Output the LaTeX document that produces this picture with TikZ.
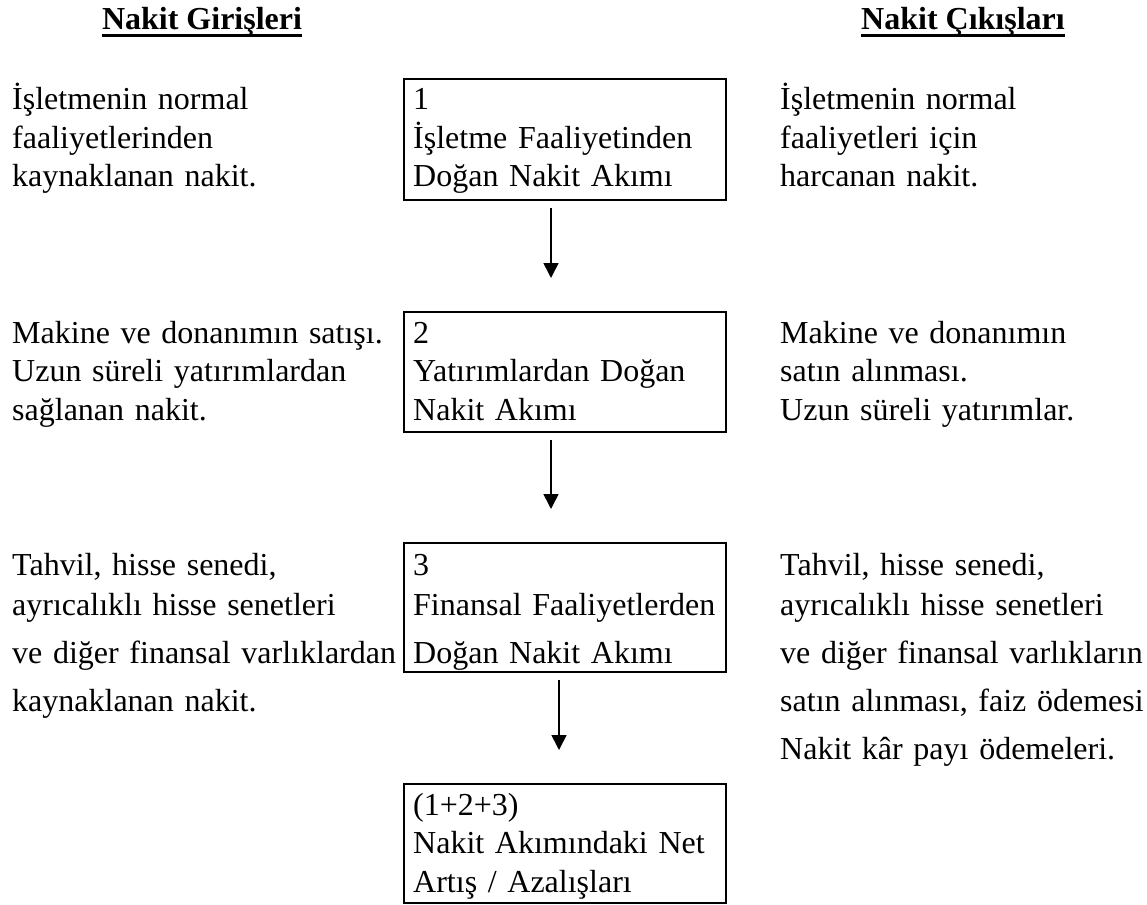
\documentclass[tikz,border=0pt]{standalone}
\usepackage{fontspec}
\setmainfont{Liberation Serif}
\usetikzlibrary{calc, positioning}
\usetikzlibrary{arrows.meta}
\tikzset{
  font=\fontsize{32}{38.5}\selectfont,
  % Set arrowhead
  >={Triangle[width=15pt, length=15pt]},
  % Text block, placed at the baseline of its first line
  txt/.style={inner sep=0pt, anchor=base west, align=left, text width=420pt},
  % Column heading
  head/.style={inner sep=0pt, anchor=base, font=\fontsize{32}{38.5}\selectfont\bfseries},
  % Underline of a heading
  uline/.style={line width=2.5pt},
  % Framed box
  box/.style={draw, line width=2.2pt, minimum width=322pt, inner sep=0pt,
    anchor=north west},
  % Arrow between boxes
  flow/.style={->, line width=1.6pt, shorten <=7pt, shorten >=33pt},
}

\begin{document}
\begin{tikzpicture}[x=1pt, y=-1pt]
  \useasboundingbox (0,0) rectangle (1147,904);

  % Headings
  \node[head] (hin) at (202,30) {Nakit Girişleri};
  \node[head] (hout) at (963,30) {Nakit Çıkışları};
  \draw[uline] ([yshift=-5.5pt]hin.base west) -- ([yshift=-5.5pt]hin.base east);
  \draw[uline] ([yshift=-5.5pt]hout.base west) -- ([yshift=-5.5pt]hout.base east);

  % 1
  \node[txt] (in1) at (12,110) {İşletmenin normal\\ faaliyetlerinden\\
    kaynaklanan nakit.};
  \node[box, minimum height=121pt] (b1) at (403,78) {};
  \node[txt] (b1t) at (413,110) {1\\ İşletme Faaliyetinden\\ Doğan Nakit Akımı};
  \node[txt] (out1) at (780,110) {İşletmenin normal\\ faaliyetleri için\\
    harcanan nakit.};

  % 2
  \node[txt] (in2) at (12,343) {Makine ve donanımın satışı.\\
    Uzun süreli yatırımlardan\\ sağlanan nakit.};
  \node[box, minimum height=120pt] (b2) at (403,311) {};
  \node[txt] (b2t) at (413,343) {2\\ Yatırımlardan Doğan\\ Nakit Akımı};
  \node[txt] (out2) at (780,343) {Makine ve donanımın\\ satın alınması.\\
    Uzun süreli yatırımlar.};

  % 3
  \node[txt] (in3) at (12,575) {Tahvil, hisse senedi,\\[1.5pt]
    ayrıcalıklı hisse senetleri\\[9.5pt] ve diğer finansal varlıklardan\\[9.5pt]
    kaynaklanan nakit.};
  \node[box, minimum height=129pt] (b3) at (403,542) {};
  \node[txt] (b3t) at (413,575) {3\\[1.5pt] Finansal Faaliyetlerden\\[9.5pt]
    Doğan Nakit Akımı};
  \node[txt] (out3) at (780,575) {Tahvil, hisse senedi,\\[1.5pt]
    ayrıcalıklı hisse senetleri\\[9.5pt] ve diğer finansal varlıkların\\[9.5pt]
    satın alınması, faiz ödemesi\\[9.5pt] Nakit kâr payı ödemeleri.};

  % 1+2+3
  \node[box, minimum height=119pt] (b4) at (403,783) {};
  \node[txt] (b4t) at (413,815) {(1+2+3)\\ Nakit Akımındaki Net\\
    Artış / Azalışları};

  % Arrows
  \coordinate (ax) at (551,0);
  \coordinate (bx) at (559,0);
  \draw[flow] (b1.south -| ax) -- (b2.north -| ax);
  \draw[flow] (b2.south -| ax) -- (b3.north -| ax);
  \draw[flow] (b3.south -| bx) -- (b4.north -| bx);
\end{tikzpicture}
\end{document}
